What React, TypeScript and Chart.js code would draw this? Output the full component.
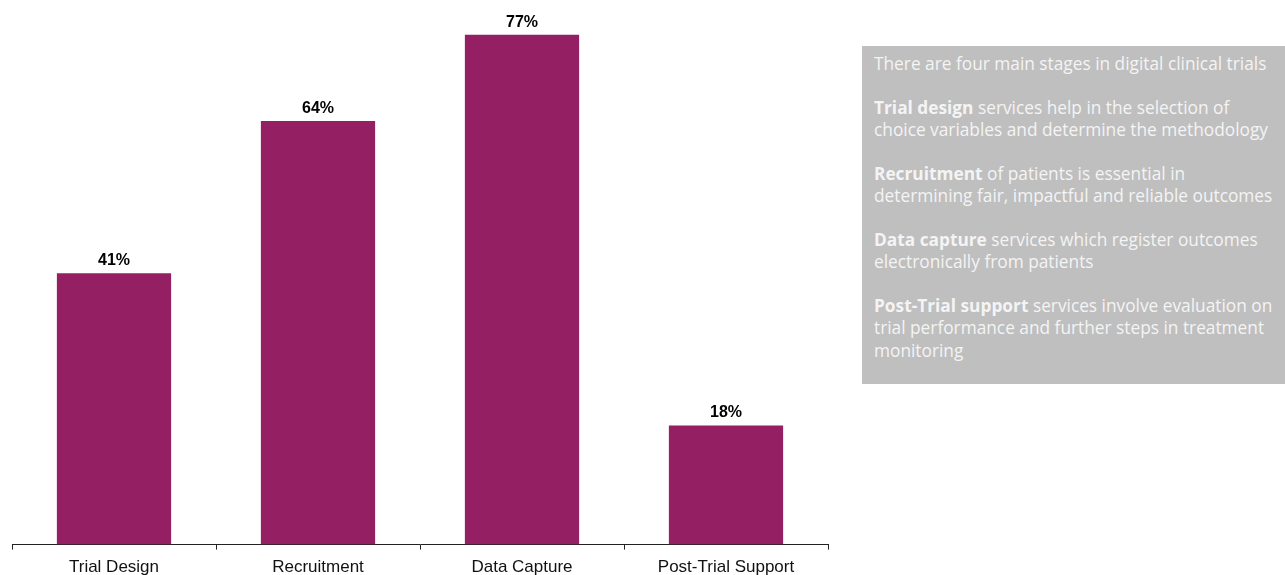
import React, { useEffect, useRef } from "react";
import { Chart, registerables } from "chart.js";

Chart.register(...registerables);

const categories = ["Trial Design", "Recruitment", "Data Capture", "Post-Trial Support"];
const values = [41, 64, 77, 18];
const valueLabels = ["41%", "64%", "77%", "18%"];

const BAR_COLOR = "#941F63";

const labelPlugin = {
  id: "valueLabels",
  afterDatasetsDraw(chart: any) {
    const ctx = chart.ctx;
    const meta = chart.getDatasetMeta(0);
    ctx.save();
    ctx.font = "bold 16px 'Liberation Sans', Arial, sans-serif";
    ctx.fillStyle = "#000000";
    ctx.textAlign = "center";
    ctx.textBaseline = "alphabetic";
    meta.data.forEach((el: any, i: number) => {
      ctx.fillText(valueLabels[i], el.x, el.y - 8);
    });
    ctx.restore();
  },
};

function BarChart() {
  const ref = useRef<HTMLCanvasElement | null>(null);
  useEffect(() => {
    if (!ref.current) return;
    const chart = new Chart(ref.current, {
      type: "bar",
      data: {
        labels: categories,
        datasets: [
          {
            data: values,
            backgroundColor: BAR_COLOR,
            borderWidth: 0,
            categoryPercentage: 1,
            barPercentage: 0.56,
          },
        ],
      },
      options: {
        responsive: false,
        animation: false,
        layout: { padding: { left: 12, right: 12, top: 15, bottom: 0 } },
        plugins: { legend: { display: false }, tooltip: { enabled: false } },
        scales: {
          y: { display: false, min: 0, max: 80 },
          x: {
            offset: true,
            border: { display: true, color: "#222222", width: 1 },
            grid: {
              display: true,
              drawOnChartArea: false,
              drawTicks: true,
              tickLength: 5,
              color: "#222222",
              offset: true,
            },
            ticks: {
              color: "#111111",
              padding: 8,
              font: { family: "'Liberation Sans', Arial, sans-serif", size: 17 },
              maxRotation: 0,
            },
          },
        },
      },
      plugins: [labelPlugin],
    });
    return () => chart.destroy();
  }, []);
  return <canvas ref={ref} width={840} height={586} style={{ display: "block" }} />;
}

const paraStyle: React.CSSProperties = { margin: "0 0 21px 0", whiteSpace: "nowrap" };

export default function App() {
  return (
    <div
      style={{
        position: "absolute",
        left: 0,
        top: 0,
        width: 1285,
        height: 575,
        overflow: "hidden",
        background: "#ffffff",
      }}
    >
      <div style={{ position: "absolute", left: 0, top: 0 }}>
        <BarChart />
      </div>
      <div
        style={{
          position: "absolute",
          left: 862,
          top: 46,
          width: 423,
          height: 338,
          boxSizing: "border-box",
          background: "#BFBFBF",
          color: "#F4F4F4",
          fontFamily: "'Open Sans', 'Noto Sans', sans-serif",
          fontSize: 17.3,
          lineHeight: "22.5px",
          padding: "7px 0 0 12px",
        }}
      >
        <p style={paraStyle}>There are four main stages in digital clinical trials</p>
        <p style={paraStyle}>
          <b>Trial design</b> services help in the selection of
          <br />
          choice variables and determine the methodology
        </p>
        <p style={paraStyle}>
          <b>Recruitment</b> of patients is essential in
          <br />
          determining fair, impactful and reliable outcomes
        </p>
        <p style={paraStyle}>
          <b>Data capture</b> services which register outcomes
          <br />
          electronically from patients
        </p>
        <p style={paraStyle}>
          <b>Post-Trial support</b> services involve evaluation on
          <br />
          trial performance and further steps in treatment
          <br />
          monitoring
        </p>
      </div>
    </div>
  );
}
